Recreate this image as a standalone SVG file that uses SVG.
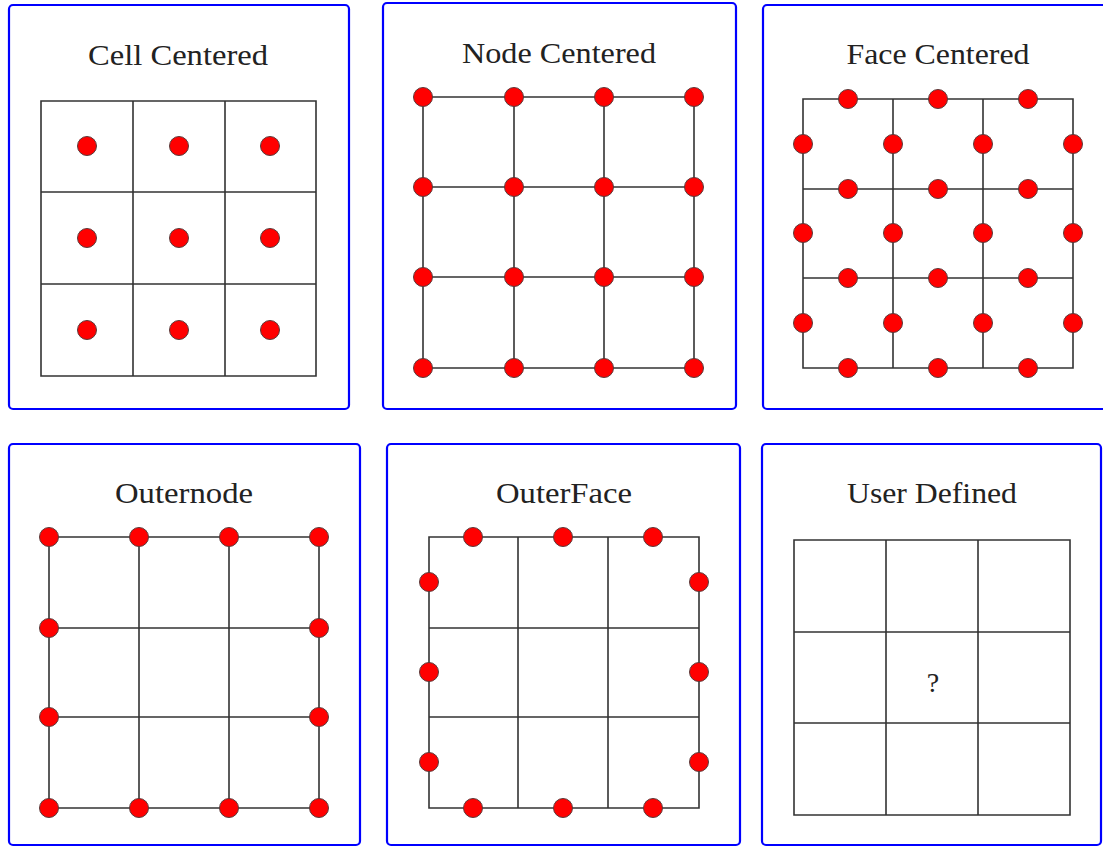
<svg xmlns="http://www.w3.org/2000/svg" width="1103" height="847" viewBox="0 0 1103 847">
<style>
.frame{fill:#fff;stroke:#0000ff;stroke-width:2.2}
.grid{fill:none;stroke:#333;stroke-width:1.6}
.dot{fill:#ff0000;stroke:#5a3a3a;stroke-width:1}
.title{font-family:Liberation Serif,Times New Roman,Times,Tinos,DejaVu Serif,Noto Serif,FreeSerif,serif;font-size:30px;fill:#222;text-anchor:middle}
</style>
<rect width="1103" height="847" fill="#fff"/>
<g id="cell-centered">
<rect class="frame" x="9" y="5" width="340" height="404" rx="4"/>
<text class="title" x="178" y="65" textLength="180" lengthAdjust="spacingAndGlyphs">Cell Centered</text>
<path class="grid" d="M41 101H316V376H41Z M133 101V376 M225 101V376 M41 192H316 M41 284H316"/>
<g class="dot">
<circle cx="87" cy="146" r="9.5"/><circle cx="179" cy="146" r="9.5"/><circle cx="270" cy="146" r="9.5"/>
<circle cx="87" cy="238" r="9.5"/><circle cx="179" cy="238" r="9.5"/><circle cx="270" cy="238" r="9.5"/>
<circle cx="87" cy="330" r="9.5"/><circle cx="179" cy="330" r="9.5"/><circle cx="270" cy="330" r="9.5"/>
</g>
</g>
<g id="node-centered">
<rect class="frame" x="383" y="3" width="353" height="406" rx="4"/>
<text class="title" x="559" y="63" textLength="194" lengthAdjust="spacingAndGlyphs">Node Centered</text>
<path class="grid" d="M423 97H694V368H423Z M514 97V368 M604 97V368 M423 187H694 M423 277H694"/>
<g class="dot">
<circle cx="423" cy="97" r="9.5"/><circle cx="514" cy="97" r="9.5"/><circle cx="604" cy="97" r="9.5"/><circle cx="694" cy="97" r="9.5"/>
<circle cx="423" cy="187" r="9.5"/><circle cx="514" cy="187" r="9.5"/><circle cx="604" cy="187" r="9.5"/><circle cx="694" cy="187" r="9.5"/>
<circle cx="423" cy="277" r="9.5"/><circle cx="514" cy="277" r="9.5"/><circle cx="604" cy="277" r="9.5"/><circle cx="694" cy="277" r="9.5"/>
<circle cx="423" cy="368" r="9.5"/><circle cx="514" cy="368" r="9.5"/><circle cx="604" cy="368" r="9.5"/><circle cx="694" cy="368" r="9.5"/>
</g>
</g>
<g id="face-centered">
<rect class="frame" x="763" y="5" width="360" height="404" rx="4"/>
<text class="title" x="938" y="64" textLength="183" lengthAdjust="spacingAndGlyphs">Face Centered</text>
<path class="grid" d="M803 99H1073V368H803Z M893 99V368 M983 99V368 M803 189H1073 M803 278H1073"/>
<g class="dot">
<circle cx="848" cy="99" r="9.5"/><circle cx="938" cy="99" r="9.5"/><circle cx="1028" cy="99" r="9.5"/>
<circle cx="848" cy="189" r="9.5"/><circle cx="938" cy="189" r="9.5"/><circle cx="1028" cy="189" r="9.5"/>
<circle cx="848" cy="278" r="9.5"/><circle cx="938" cy="278" r="9.5"/><circle cx="1028" cy="278" r="9.5"/>
<circle cx="848" cy="368" r="9.5"/><circle cx="938" cy="368" r="9.5"/><circle cx="1028" cy="368" r="9.5"/>
<circle cx="803" cy="144" r="9.5"/><circle cx="893" cy="144" r="9.5"/><circle cx="983" cy="144" r="9.5"/><circle cx="1073" cy="144" r="9.5"/>
<circle cx="803" cy="233" r="9.5"/><circle cx="893" cy="233" r="9.5"/><circle cx="983" cy="233" r="9.5"/><circle cx="1073" cy="233" r="9.5"/>
<circle cx="803" cy="323" r="9.5"/><circle cx="893" cy="323" r="9.5"/><circle cx="983" cy="323" r="9.5"/><circle cx="1073" cy="323" r="9.5"/>
</g>
</g>
<g id="outernode">
<rect class="frame" x="9" y="444" width="351" height="401" rx="4"/>
<text class="title" x="184" y="503" textLength="138" lengthAdjust="spacingAndGlyphs">Outernode</text>
<path class="grid" d="M49 537H319V808H49Z M139 537V808 M229 537V808 M49 628H319 M49 717H319"/>
<g class="dot">
<circle cx="49" cy="537" r="9.5"/><circle cx="139" cy="537" r="9.5"/><circle cx="229" cy="537" r="9.5"/><circle cx="319" cy="537" r="9.5"/>
<circle cx="49" cy="628" r="9.5"/><circle cx="319" cy="628" r="9.5"/>
<circle cx="49" cy="717" r="9.5"/><circle cx="319" cy="717" r="9.5"/>
<circle cx="49" cy="808" r="9.5"/><circle cx="139" cy="808" r="9.5"/><circle cx="229" cy="808" r="9.5"/><circle cx="319" cy="808" r="9.5"/>
</g>
</g>
<g id="outerface">
<rect class="frame" x="387" y="444" width="353" height="401" rx="4"/>
<text class="title" x="564" y="503" textLength="136" lengthAdjust="spacingAndGlyphs">OuterFace</text>
<path class="grid" d="M429 537H699V808H429Z M518 537V808 M608 537V808 M429 628H699 M429 717H699"/>
<g class="dot">
<circle cx="473" cy="537" r="9.5"/><circle cx="563" cy="537" r="9.5"/><circle cx="653" cy="537" r="9.5"/>
<circle cx="473" cy="808" r="9.5"/><circle cx="563" cy="808" r="9.5"/><circle cx="653" cy="808" r="9.5"/>
<circle cx="429" cy="582" r="9.5"/><circle cx="429" cy="672" r="9.5"/><circle cx="429" cy="762" r="9.5"/>
<circle cx="699" cy="582" r="9.5"/><circle cx="699" cy="672" r="9.5"/><circle cx="699" cy="762" r="9.5"/>
</g>
</g>
<g id="user-defined">
<rect class="frame" x="762" y="444" width="339" height="401" rx="4"/>
<text class="title" x="932" y="503" textLength="170" lengthAdjust="spacingAndGlyphs">User Defined</text>
<path class="grid" d="M794 540H1070V815H794Z M886 540V815 M978 540V815 M794 632H1070 M794 723H1070"/>
<text class="title" x="933" y="692" style="font-size:28px">?</text>
</g>
</svg>
